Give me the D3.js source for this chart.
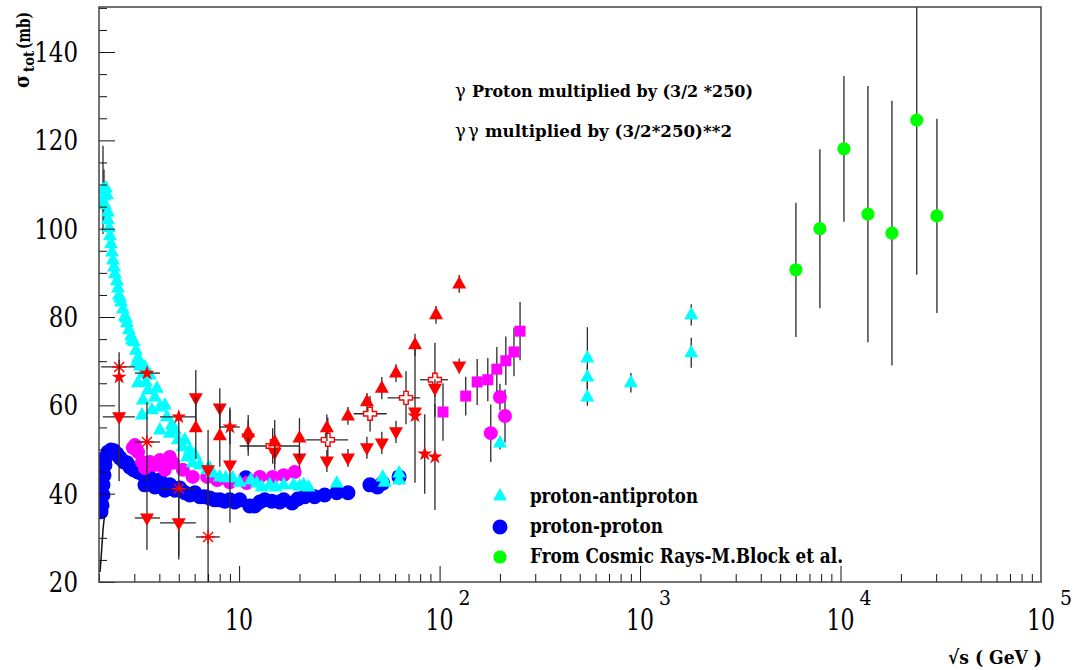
<!DOCTYPE html>
<html><head><meta charset="utf-8">
<script src="https://cdn.jsdelivr.net/npm/d3@7"></script>
<style>body{margin:0;background:#fff}svg{display:block}</style>
</head><body><svg id="c" width="1076" height="670"></svg>
<script>
// ---- data: [sqrt(s) GeV, sigma mb, yerr, xlo, xhi] ----
const yTickLabels = [20, 40, 60, 80, 100, 120, 140];
const xTickValues = [10, 100, 1000, 10000, 100000];
const xTickExp = ["", "2", "3", "4", "5"];

const ppbar = [
 [2.094,108.8,10],[2.118,107.4,6],[2.094,106.1],[2.167,109.2],[2.192,107.7],[2.142,105.4],
 [2.217,103.8],[2.217,102.0],[2.243,100.2],[2.269,98.4],[2.295,96.6],[2.322,94.7],[2.349,92.9],
 [2.376,91.3],[2.403,89.8],[2.459,88.2],[2.487,86.6],[2.516,85.0],[2.545,84.3],[2.575,83.4],
 [2.634,81.8],[2.695,80.2],[2.726,79.8],[2.757,78.7],[2.821,77.1],[2.887,75.7],[2.92,74.8],
 [2.988,74.4],[3.057,72.5],[3.092,69.8],[3.128,70.7],[3.2,68.9],[3.313,67.1],[3.39,68.7],
 [3.428,65.3],[3.128,65.1],[3.508,63.5],[3.589,66.9],[3.889,63.9],[3.313,61.2],[3.801,61.9],
 [3.275,57.8],[3.672,59.0],[4.025,59.6],[4.263,60.1],[4.362,57.4],[4.619,55.6],[4.025,54.4],
 [4.514,53.7],[4.79,54.4],[4.948,52.2],[5.24,50.6],[5.36,52.2],[5.49,48.3],[5.68,49.9],
 [5.87,47.0],[6.02,48.8],[6.37,46.5],[6.93,45.4],[7.14,45.8],[7.37,44.7],[8.01,43.8],
 [8.58,43.6],[9.29,43.6],[10.07,42.6],[11.43,43.1],[12.25,42.4],[12.97,41.5],[14.21,42.0],
 [15.22,41.5],[16.68,42.0],[18.7,42.0],[20.05,41.7],[21.0,42.0],[22.2,41.5],[30.7,42.4],
 [52.0,43.8],[53.2,42.6],[62.8,44.7],[62.8,43.1],
 [200,51.5,1.5],[546,70.7,7],[546,66.4,2.5],[546,61.9,2],[900,65.1,2.2],[1800,80.5,2.4],[1800,71.9,3.4]
];

const pp = [
 [2.046,35.9],[2.070,37.4],[2.094,39.7],[2.094,42.0],[2.118,44.2],[2.142,46.5],[2.167,48.3],
 [2.217,49.4],[2.295,49.9],[2.376,49.7],[2.459,49.0],[2.545,48.1],[2.664,47.2],[2.757,47.0],
 [2.854,46.0],[2.988,45.4],[3.128,44.9],[3.275,44.5],[3.428,44.0],[3.589,43.6],[3.39,42.0],
 [3.80,41.5],[4.025,43.1],[4.26,40.8],[4.51,42.0],[4.79,40.8],[5.06,41.3],[5.37,40.2],
 [5.68,39.7],[6.02,40.2],[6.37,39.3],[6.74,39.3],[7.14,39.0],[7.56,38.6],[8.01,38.6],
 [8.48,38.3],[8.98,38.6],[9.51,38.1],[10.07,38.6],[10.8,43.6],[11.3,37.2],[11.96,37.2],
 [12.67,38.1],[13.42,38.6],[14.55,38.3],[15.94,38.1],[16.68,38.6],[18.38,37.9],[19.6,38.8],
 [21.23,39.3],[23.81,39.3],[26.7,39.7],[30.7,40.2],[34.9,40.2],[44.9,42.0],[49.0,41.5],
 [52.0,42.4],[62.8,43.8]
];

const ppThreshold = [[2.023,22.3],[2.046,25.0],[2.07,28.4],[2.094,31.8],[2.118,34.0],[2.142,35.2]];

const gammaP = [
 [2.95,50.4],[3.02,51.0],[3.13,49.4],[3.275,47.2],[3.39,45.8],[3.59,47.2],[3.80,46.5],[4.03,47.6],
 [4.26,45.4],[4.51,48.3],[4.67,47.0],[5.24,45.4],[5.87,43.8],[6.93,43.8],[7.78,43.1],
 [8.98,42.6],[10.9,42.4],[12.67,43.8],[14.7,43.8],[16.68,44.2],[18.93,44.9],
 [180,53.7,6.5],[200,61.9,3],[212,57.6,6]
];

const gammaGamma = [[104,58.5,6.5],[135,62.1,4.4],[154,65.3,5.2],[174,65.8,4.9],[193,68.2,5],[214,70.1,5.5],[235,72.1,5.5],[252,76.8,6.6]];

const ggUp = [[6.08,54.9,7],[8.01,53.1,7],[11.1,53.8,4],[15.05,51.7,5],[20.0,52.6,4.5],[27.4,54.9,3],[34.9,57.6,2],[43.4,60.8,2],[51.5,63.9,2.5],[60.6,67.3,2],[75.4,73.7,2.5],[96,80.5,2],[125.3,87.5,2]];

const ggDown = [[2.52,57.4,14.6,2.09,3.02],[3.47,34.5,7.2,3.02,4.03],[5.0,33.4,7.5,4.03,6.08],[6.08,61.7,6.3],[7.0,45.4,9],[8.01,59.4,4.5],[9.0,46.5,13],[11.1,52.6,4],[15.05,49.4,4],[20.0,48.1,2.5],[27.4,47.4,2.5],[34.9,48.1,2],[43.4,50.4,2.5],[51.5,51.5,2.5],[60.6,54.0,2.5],[75.4,58.5,16],[94.8,63.9,2],[125.3,68.9,1.7]];

const ggStar = [[2.52,66.4],[3.47,67.3,0,3.02,4.03],[5.0,57.4,0,4.03,6.08],[9.0,55.1,3.9,8.01,10.07],[75.4,57.6],[84.3,49.0,9],[94.8,48.3,12]];

const ggAsterisk = [[2.52,68.7,0,2.05,3.02],[3.47,51.7,9,3.02,4.03],[5.0,41.1,16,4.03,6.08],[7.0,30.2,15,6.08,8.01]];

const ggOpenCross = [[14.7,50.8,4,10.07,20.05],[27.7,52.2,5,21.5,35],[45,58.1,4,37.3,54.5],[68,61.7,6,55,80],[94.8,65.8,8.4,80,110]];

const cosmic = [[5990,90.7,15.2],[7890,100.0,18],[10400,118.1,16.5],[13700,103.3,29],[18050,99.0,30],[24000,124.6,35],[30260,102.9,22]];

const legendItems = [
 {label:"proton-antiproton", shape:"up", color:"#00ffff", w:168},
 {label:"proton-proton", shape:"circle", color:"#0000ff", w:133},
 {label:"From Cosmic Rays-M.Block et al.", shape:"circleG", color:"#00ff00", w:313}
];

// ---- drawing ----
const FONT = "DejaVu Serif";
const svg = d3.select("#c");
const L=99, R=1041, T=7, B=582;
const xs = d3.scaleLog().domain([2,1e5]).range([L,R]);
const ys = d3.scaleLinear().domain([20,150.2]).range([B,T]);

svg.append("defs").append("clipPath").attr("id","clip")
  .append("rect").attr("x",L).attr("y",T).attr("width",R-L).attr("height",B-T);

const SH = {
  up: "M0,-8L7,4.5L-7,4.5Z",
  down: "M0,8L7,-4.5L-7,-4.5Z",
  circle: d3.symbol(d3.symbolCircle, Math.PI*7.5*7.5)(),
  circleM: d3.symbol(d3.symbolCircle, Math.PI*7*7)(),
  circleG: d3.symbol(d3.symbolCircle, Math.PI*6.6*6.6)(),
  square: "M-5.5,-5.5H5.5V5.5H-5.5Z",
  star: d3.symbol(d3.symbolStar, 70)(),
  cross: "M-2.2,-6.5H2.2V-2.2H6.5V2.2H2.2V6.5H-2.2V2.2H-6.5V-2.2H-2.2Z",
  asterisk: "M-7,0H7M0,-7V7M-5,-5L5,5M-5,5L5,-5"
};

const plot = svg.append("g").attr("clip-path","url(#clip)");

function drawSeries(data, shape, color) {
  const g = plot.append("g");
  g.selectAll("line.ev").data(data.filter(d=>d[2])).join("line")
    .attr("x1",d=>xs(d[0])).attr("x2",d=>xs(d[0]))
    .attr("y1",d=>ys(d[1]-d[2])).attr("y2",d=>ys(d[1]+d[2]))
    .attr("stroke","#2a2a2a").attr("stroke-width",1.3);
  g.selectAll("line.eh").data(data.filter(d=>d[3])).join("line")
    .attr("x1",d=>xs(d[3])).attr("x2",d=>xs(d[4]))
    .attr("y1",d=>ys(d[1])).attr("y2",d=>ys(d[1]))
    .attr("stroke","#2a2a2a").attr("stroke-width",1.3);
  const m = g.selectAll("path.m").data(data).join("path")
    .attr("d",SH[shape])
    .attr("transform",d=>`translate(${xs(d[0])},${ys(d[1])})`);
  if (shape==="asterisk") m.attr("fill","none").attr("stroke",color).attr("stroke-width",1.4);
  else if (shape==="cross") m.attr("fill","#fff").attr("stroke",color).attr("stroke-width",1.4);
  else m.attr("fill",color);
}

plot.append("path").datum(ppThreshold)
  .attr("d", d3.line().x(d=>xs(d[0])).y(d=>ys(d[1])))
  .attr("fill","none").attr("stroke","#111").attr("stroke-width",1.5);

drawSeries(pp,"circle","#0000ff");
drawSeries(gammaP,"circleM","#ff00ff");
drawSeries(ppbar,"up","#00ffff");
drawSeries(ggOpenCross,"cross","#ff0000");
drawSeries(ggAsterisk,"asterisk","#ff0000");
drawSeries(ggDown,"down","#ff0000");
drawSeries(ggUp,"up","#ff0000");
drawSeries(ggStar,"star","#ff0000");
drawSeries(gammaGamma,"square","#ff00ff");
drawSeries(cosmic,"circleG","#00ff00");

// ---- axes ----
const yMinor = d3.range(20,151,5).filter(v=>v%20!==0);
svg.append("g").attr("transform",`translate(${L},0)`)
  .call(d3.axisLeft(ys).tickValues(yMinor).tickSize(-8).tickFormat(""))
  .call(g=>g.select(".domain").remove());
svg.append("g").attr("transform",`translate(${L},0)`)
  .call(d3.axisLeft(ys).tickValues(yTickLabels).tickSize(-16).tickFormat(""))
  .call(g=>g.select(".domain").remove());

const xMinor = [];
[1,10,100,1000,10000].forEach(d=>{ for(let m=2;m<=9;m++){ const v=m*d; if(v>=2 && v<1e5) xMinor.push(v);} });
svg.append("g").attr("transform",`translate(0,${B})`)
  .call(d3.axisBottom(xs).tickValues(xMinor).tickSize(-8).tickFormat(""))
  .call(g=>g.select(".domain").remove());
svg.append("g").attr("transform",`translate(0,${B})`)
  .call(d3.axisBottom(xs).tickValues(xTickValues.slice(0,4)).tickSize(-16).tickFormat(""))
  .call(g=>g.select(".domain").remove());
svg.selectAll(".tick line").attr("stroke","#111").attr("stroke-width",1);

svg.append("rect").attr("x",L).attr("y",T).attr("width",R-L).attr("height",B-T)
  .attr("fill","none").attr("stroke","#444").attr("stroke-width",1.5);

function txt(g){ return g.append("text").style("font-family",FONT).attr("fill","#000"); }

// y labels
yTickLabels.forEach(v=>{
  const s = String(v);
  txt(svg).attr("x",78).attr("y",ys(v)+10).attr("text-anchor","end")
    .attr("font-size",28).attr("textLength",s.length*14.6).attr("lengthAdjust","spacingAndGlyphs").text(s);
});

// x labels
xTickValues.forEach((v,i)=>{
  txt(svg).attr("x",xs(v)-14).attr("y",630)
    .attr("font-size",29).attr("textLength",28).attr("lengthAdjust","spacingAndGlyphs").text("10");
  if (xTickExp[i]) txt(svg).attr("x",xs(v)+19).attr("y",605)
    .attr("font-size",20).attr("textLength",12).attr("lengthAdjust","spacingAndGlyphs").text(xTickExp[i]);
});

// axis titles
txt(svg).attr("x",948).attr("y",664)
  .attr("font-size",19).attr("font-weight","bold")
  .attr("textLength",94).attr("lengthAdjust","spacingAndGlyphs").text("√s ( GeV )");
txt(svg).attr("transform","translate(29,88) rotate(-90) scale(0.85,1)").attr("font-weight","bold")
  .attr("font-size",21).text("σ");
txt(svg).attr("transform","translate(34,72) rotate(-90) scale(0.95,1)").attr("font-weight","bold")
  .attr("font-size",14).text("tot");
txt(svg).attr("transform","translate(30,49) rotate(-90) scale(0.72,1)").attr("font-weight","bold")
  .attr("font-size",19).text("(mb)");

// annotations
txt(svg).attr("x",455).attr("y",97).attr("font-size",18).text("γ");
txt(svg).attr("x",472).attr("y",97).attr("font-size",17).attr("font-weight","bold")
  .attr("textLength",281).attr("lengthAdjust","spacingAndGlyphs").text("Proton multiplied by (3/2 *250)");
txt(svg).attr("x",455).attr("y",137).attr("font-size",18).text("γ");
txt(svg).attr("x",468).attr("y",137).attr("font-size",18).text("γ");
txt(svg).attr("x",485).attr("y",137).attr("font-size",17).attr("font-weight","bold")
  .attr("textLength",247).attr("lengthAdjust","spacingAndGlyphs").text("multiplied by (3/2*250)**2");

// legend
legendItems.forEach((it,i)=>{
  const yy = [496,527,557][i];
  svg.append("path").attr("d",SH[it.shape]).attr("fill",it.color)
    .attr("transform",`translate(500,${yy})`);
  txt(svg).attr("x",530).attr("y",[503,533,563][i])
    .attr("font-size",20).attr("font-weight","bold")
    .attr("textLength",it.w).attr("lengthAdjust","spacingAndGlyphs").text(it.label);
});
</script></body></html>
